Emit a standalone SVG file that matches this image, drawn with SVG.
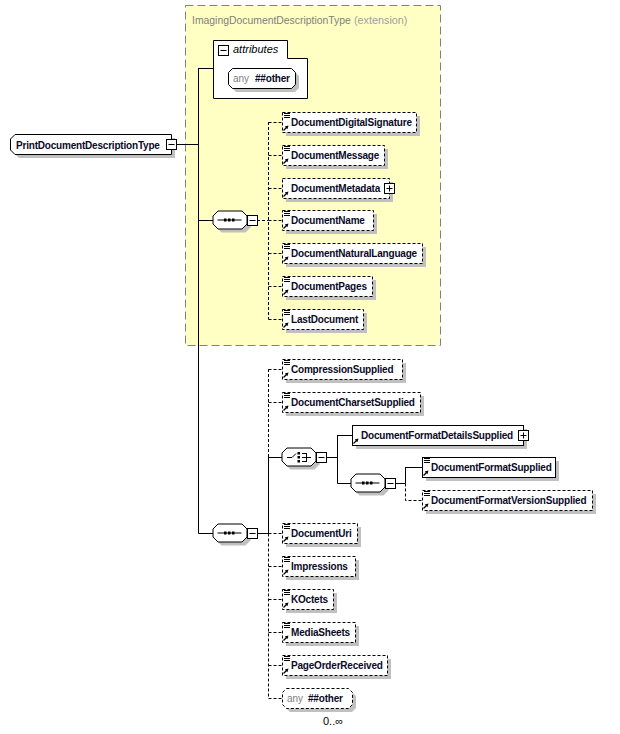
<svg xmlns="http://www.w3.org/2000/svg" xmlns:xlink="http://www.w3.org/1999/xlink" width="620" height="734" viewBox="0 0 620 734">
<style>
.sh{fill:#c0c0c0;stroke:none}
.bx{fill:#fff;stroke:#000;stroke-width:1}
.opt{stroke-dasharray:3,2}
.ln{stroke:#000;stroke-width:1;fill:none}
.dl{stroke:#000;stroke-width:1;fill:none;stroke-dasharray:3,2}
.t{font-family:"Liberation Sans",Arial,sans-serif;font-size:10px;font-weight:bold;letter-spacing:-0.2px;fill:#0a0a28}
.g{font-family:"Liberation Sans",Arial,sans-serif;font-size:10px;fill:#808080}
.btn{fill:#fff;stroke:#000;stroke-width:1}
</style>
<defs>
<g id="ic"><path d="M0,0.5h6M0,2.5h6M0,4.5h6" stroke="#000" stroke-width="1"/></g>
<g id="ar"><path d="M0.5,6.5L3.5,3.5" stroke="#000" stroke-width="1.2"/><path d="M5.5,1.5L1.8,2.6L4.4,5.2Z" fill="#000"/></g>
<g id="minus"><rect class="btn" x="0.5" y="0.5" width="10" height="10"/><path d="M2.5,5.5h6" stroke="#000"/></g>
<g id="plus"><rect class="btn" x="0.5" y="0.5" width="10" height="10"/><path d="M2.5,5.5h6M5.5,2.5v6" stroke="#000"/></g>
<g id="seqicon"><path d="M5,9.5H29" stroke="#000"/><rect x="11.5" y="8" width="2.5" height="3" fill="#000"/><rect x="15.5" y="8" width="2.5" height="3" fill="#000"/><rect x="19.5" y="8" width="2.5" height="3" fill="#000"/></g>
<polygon id="oct" points="5.5,0.5 29.5,0.5 34.5,5.5 34.5,13.5 29.5,18.5 5.5,18.5 0.5,13.5 0.5,5.5"/>
</defs>

<!-- extension area -->
<g id="extension">
<rect x="185.5" y="5.5" width="255" height="340" fill="#ffffc4" stroke="#808080" stroke-width="1" stroke-dasharray="8,4"/>
<text x="192" y="24" style="font-family:'Liberation Sans',Arial,sans-serif;font-size:10.4px;fill:#808080">ImagingDocumentDescriptionType</text>
<text x="354" y="24" style="font-family:'Liberation Sans',Arial,sans-serif;font-size:10.8px;fill:#a0a0a0">(extension)</text>
</g>

<!-- connectors -->
<g id="connectors">
<path class="ln" d="M176,144.5H198.5M198.5,68V533.5M198.5,68.5H213M198.5,220.5H213M198.5,533.5H213"/>
<path class="dl" d="M257,220.5H268.5M268.5,122V319.5M268.5,122.5H282M268.5,155.5H282M268.5,188.5H282M268.5,220.5H282M268.5,253.5H282M268.5,286.5H282M268.5,319.5H282"/>
<path class="ln" d="M257,533.5H268.5M268.5,457V533.5M268.5,457.5H282M326,457.5H337.5M337.5,435V483.5M337.5,435.5H352M337.5,483.5H351M395,483.5H405.5M405.5,467V483.5M405.5,467.5H422"/>
<path class="dl" d="M268.5,369V457M268.5,533.5V698.5M268.5,369.5H282M268.5,402.5H282M268.5,533.5H282M268.5,566.5H282M268.5,599.5H282M268.5,632.5H282M268.5,665.5H282M268.5,698.5H282M405.5,483.5V500.5H422"/>
</g>

<!-- root -->
<g id="PrintDocumentDescriptionType">
<polygon class="sh" points="19,138 175,138 175,158 19,158 14,153 14,143"/>
<polygon class="bx" points="15,134.5 171.5,134.5 171.5,154.5 15,154.5 10.5,150 10.5,139"/>
<text class="t" x="16" y="148.5">PrintDocumentDescriptionType</text>
<use xlink:href="#minus" x="166" y="139"/>
</g>

<!-- attributes -->
<g id="attributes">
<path d="M213.5,40.5H287.5V58.5H307.5V98.5H213.5Z" fill="#fff" stroke="#000"/>
<use xlink:href="#minus" x="218" y="45"/>
<text x="233" y="53" style="font-family:'Liberation Sans',Arial,sans-serif;font-size:11px;font-style:italic;fill:#000">attributes</text>
<polygon class="sh" points="236,72 295,72 299,76 299,88 295,92 236,92 232,88 232,76"/>
<polygon class="bx" points="232.5,68.5 291.5,68.5 295.5,72.5 295.5,84.5 291.5,88.5 232.5,88.5 228.5,84.5 228.5,72.5"/>
<text class="g" x="233" y="82">any</text>
<text class="t" x="255" y="82">##other</text>
</g>

<!-- sequence 1 -->
<g id="sequence1">
<use xlink:href="#oct" class="sh" x="216" y="214"/>
<use xlink:href="#oct" class="bx" x="212.5" y="210.5"/>
<use xlink:href="#seqicon" x="212.5" y="210.5"/>
<use xlink:href="#minus" x="247" y="215"/>
</g>

<g id="DocumentDigitalSignature">
<rect class="sh" x="286" y="116" width="134" height="20"/>
<rect class="bx opt" x="282.5" y="112.5" width="134" height="20"/>
<use xlink:href="#ic" x="284" y="113"/><use xlink:href="#ar" x="283" y="124"/>
<text class="t" x="291" y="126">DocumentDigitalSignature</text>
</g>
<g id="DocumentMessage">
<rect class="sh" x="286" y="149" width="102" height="20"/>
<rect class="bx opt" x="282.5" y="145.5" width="102" height="20"/>
<use xlink:href="#ic" x="284" y="146"/><use xlink:href="#ar" x="283" y="157"/>
<text class="t" x="291" y="159">DocumentMessage</text>
</g>
<g id="DocumentMetadata">
<rect class="sh" x="286" y="182" width="107" height="20"/>
<rect class="bx opt" x="282.5" y="178.5" width="107" height="20"/>
<use xlink:href="#ar" x="283" y="190"/>
<text class="t" x="291" y="192">DocumentMetadata</text>
<use xlink:href="#plus" x="384" y="183"/>
</g>
<g id="DocumentName">
<rect class="sh" x="286" y="214" width="91" height="20"/>
<rect class="bx opt" x="282.5" y="210.5" width="91" height="20"/>
<use xlink:href="#ic" x="284" y="211"/><use xlink:href="#ar" x="283" y="222"/>
<text class="t" x="291" y="224">DocumentName</text>
</g>
<g id="DocumentNaturalLanguage">
<rect class="sh" x="286" y="247" width="140" height="20"/>
<rect class="bx opt" x="282.5" y="243.5" width="140" height="20"/>
<use xlink:href="#ic" x="284" y="244"/><use xlink:href="#ar" x="283" y="255"/>
<text class="t" x="291" y="257">DocumentNaturalLanguage</text>
</g>
<g id="DocumentPages">
<rect class="sh" x="286" y="280" width="90" height="20"/>
<rect class="bx opt" x="282.5" y="276.5" width="90" height="20"/>
<use xlink:href="#ic" x="284" y="277"/><use xlink:href="#ar" x="283" y="288"/>
<text class="t" x="291" y="290">DocumentPages</text>
</g>
<g id="LastDocument">
<rect class="sh" x="286" y="313" width="81" height="20"/>
<rect class="bx opt" x="282.5" y="309.5" width="81" height="20"/>
<use xlink:href="#ic" x="284" y="310"/><use xlink:href="#ar" x="283" y="321"/>
<text class="t" x="291" y="323">LastDocument</text>
</g>

<!-- sequence 2 -->
<g id="sequence2">
<use xlink:href="#oct" class="sh" x="216" y="527"/>
<use xlink:href="#oct" class="bx" x="212.5" y="523.5"/>
<use xlink:href="#seqicon" x="212.5" y="523.5"/>
<use xlink:href="#minus" x="247" y="528"/>
</g>

<g id="CompressionSupplied">
<rect class="sh" x="286" y="363" width="120" height="20"/>
<rect class="bx opt" x="282.5" y="359.5" width="120" height="20"/>
<use xlink:href="#ic" x="284" y="360"/><use xlink:href="#ar" x="283" y="371"/>
<text class="t" x="291" y="373">CompressionSupplied</text>
</g>
<g id="DocumentCharsetSupplied">
<rect class="sh" x="286" y="396" width="138" height="20"/>
<rect class="bx opt" x="282.5" y="392.5" width="138" height="20"/>
<use xlink:href="#ic" x="284" y="393"/><use xlink:href="#ar" x="283" y="404"/>
<text class="t" x="291" y="406">DocumentCharsetSupplied</text>
</g>

<g id="choice">
<use xlink:href="#oct" class="sh" x="285" y="451"/>
<use xlink:href="#oct" class="bx" x="281.5" y="447.5"/>
<path d="M287,457.5H292L296,453.5M302,453.5H306M302,457.5H311M302,461.5H306M306.5,453V462" stroke="#000" fill="none"/>
<rect x="297.5" y="452" width="2.5" height="2.5" fill="#000"/>
<rect x="297.5" y="456" width="2.5" height="2.5" fill="#000"/>
<rect x="297.5" y="460" width="2.5" height="2.5" fill="#000"/>
<use xlink:href="#minus" x="316" y="452"/>
</g>

<g id="DocumentFormatDetailsSupplied">
<rect class="sh" x="356" y="429" width="171" height="20"/>
<rect class="bx" x="352.5" y="425.5" width="171" height="20"/>
<use xlink:href="#ar" x="353" y="437"/>
<text class="t" x="361" y="439">DocumentFormatDetailsSupplied</text>
<use xlink:href="#plus" x="518" y="430"/>
</g>

<g id="sequence3">
<use xlink:href="#oct" class="sh" x="354" y="477"/>
<use xlink:href="#oct" class="bx" x="350.5" y="473.5"/>
<use xlink:href="#seqicon" x="350.5" y="473.5"/>
<use xlink:href="#minus" x="385" y="478"/>
</g>

<g id="DocumentFormatSupplied">
<rect class="sh" x="426" y="461" width="133" height="20"/>
<rect class="bx" x="422.5" y="457.5" width="133" height="20"/>
<use xlink:href="#ic" x="424" y="458"/><use xlink:href="#ar" x="423" y="469"/>
<text class="t" x="431" y="471">DocumentFormatSupplied</text>
</g>
<g id="DocumentFormatVersionSupplied">
<rect class="sh" x="426" y="494" width="170" height="20"/>
<rect class="bx opt" x="422.5" y="490.5" width="170" height="20"/>
<use xlink:href="#ic" x="424" y="491"/><use xlink:href="#ar" x="423" y="502"/>
<text class="t" x="431" y="504">DocumentFormatVersionSupplied</text>
</g>

<g id="DocumentUri">
<rect class="sh" x="286" y="527" width="75" height="20"/>
<rect class="bx opt" x="282.5" y="523.5" width="75" height="20"/>
<use xlink:href="#ic" x="284" y="524"/><use xlink:href="#ar" x="283" y="535"/>
<text class="t" x="291" y="537">DocumentUri</text>
</g>
<g id="Impressions">
<rect class="sh" x="286" y="560" width="73" height="20"/>
<rect class="bx opt" x="282.5" y="556.5" width="73" height="20"/>
<use xlink:href="#ic" x="284" y="557"/><use xlink:href="#ar" x="283" y="568"/>
<text class="t" x="291" y="570">Impressions</text>
</g>
<g id="KOctets">
<rect class="sh" x="286" y="593" width="51" height="20"/>
<rect class="bx opt" x="282.5" y="589.5" width="51" height="20"/>
<use xlink:href="#ic" x="284" y="590"/><use xlink:href="#ar" x="283" y="601"/>
<text class="t" x="291" y="603">KOctets</text>
</g>
<g id="MediaSheets">
<rect class="sh" x="286" y="626" width="73" height="20"/>
<rect class="bx opt" x="282.5" y="622.5" width="73" height="20"/>
<use xlink:href="#ic" x="284" y="623"/><use xlink:href="#ar" x="283" y="634"/>
<text class="t" x="291" y="636">MediaSheets</text>
</g>
<g id="PageOrderReceived">
<rect class="sh" x="286" y="659" width="105" height="20"/>
<rect class="bx opt" x="282.5" y="655.5" width="105" height="20"/>
<use xlink:href="#ic" x="284" y="656"/><use xlink:href="#ar" x="283" y="667"/>
<text class="t" x="291" y="669">PageOrderReceived</text>
</g>
<g id="anyOther">
<polygon class="sh" points="290,692 352,692 356,696 356,708 352,712 290,712 286,708 286,696"/>
<polygon class="bx opt" points="286.5,688.5 348.5,688.5 352.5,692.5 352.5,704.5 348.5,708.5 286.5,708.5 282.5,704.5 282.5,692.5"/>
<text class="g" x="287" y="702">any</text>
<text class="t" x="308" y="702">##other</text>
<text x="323" y="725" style="font-family:'Liberation Sans',Arial,sans-serif;font-size:11px;fill:#000">0..∞</text>
</g>
</svg>
